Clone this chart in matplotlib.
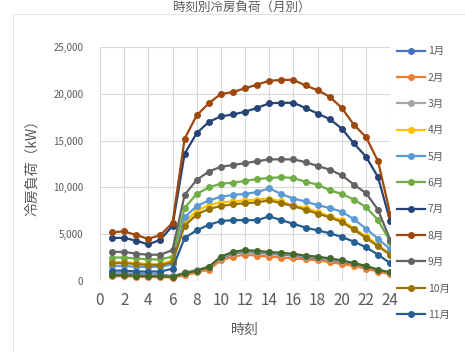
import matplotlib
matplotlib.use("Agg")
import matplotlib.pyplot as plt
from matplotlib.patches import Rectangle
from matplotlib.ticker import FuncFormatter, MultipleLocator

plt.rcParams['font.family'] = ['Noto Sans CJK JP', 'DejaVu Sans']

# 時刻 (1〜24時)
hours = list(range(1, 25))

m1 = [800, 800, 750, 700, 700, 500, 800, 1100, 1400, 2400, 2900, 3100, 3000, 2900, 2800, 2700, 2500, 2400, 2200, 2000, 1800, 1500, 1100, 800]
m2 = [500, 500, 450, 400, 400, 350, 600, 900, 1200, 2200, 2600, 2800, 2700, 2600, 2500, 2400, 2300, 2200, 2000, 1800, 1600, 1300, 1000, 700]
m3 = [700, 700, 650, 600, 600, 500, 900, 1200, 1500, 2500, 3000, 3200, 3100, 3000, 2900, 2800, 2600, 2500, 2300, 2100, 1900, 1600, 1200, 900]
m4 = [2000, 2000, 1900, 1800, 1800, 2200, 6300, 7500, 8100, 8400, 8500, 8600, 8700, 8800, 8500, 8100, 7800, 7400, 6900, 6500, 5600, 4800, 3800, 2900]
m5 = [1600, 1600, 1500, 1500, 1500, 1800, 6800, 8000, 8600, 9000, 9200, 9300, 9500, 9900, 9300, 8800, 8500, 8100, 7800, 7400, 6600, 5600, 4500, 3400]
m6 = [2500, 2500, 2400, 2300, 2300, 2600, 7800, 9300, 10000, 10400, 10500, 10700, 10900, 11000, 11100, 11000, 10600, 10300, 9700, 9300, 8700, 7900, 6500, 4200]
m7 = [4600, 4600, 4300, 3900, 4400, 5900, 13600, 15800, 17000, 17600, 17800, 18100, 18500, 19000, 19050, 19050, 18500, 17900, 17300, 16300, 14700, 13300, 11100, 6400]
m8 = [5200, 5300, 4900, 4500, 4900, 6200, 15200, 17700, 19000, 20000, 20200, 20600, 21000, 21400, 21500, 21500, 20900, 20400, 19700, 18500, 16700, 15400, 12800, 7200]
m9 = [3100, 3100, 2900, 2800, 2800, 3300, 9200, 10800, 11700, 12200, 12400, 12600, 12800, 13000, 13000, 13000, 12700, 12300, 11900, 11300, 10300, 9400, 7600, 4400]
m10 = [1900, 1900, 1800, 1700, 1700, 2000, 5900, 7100, 7700, 8000, 8200, 8300, 8400, 8600, 8300, 8000, 7600, 7200, 6800, 6300, 5500, 4600, 3700, 2800]
m11 = [1100, 1100, 1000, 1000, 1000, 1300, 4600, 5400, 6000, 6400, 6500, 6500, 6500, 6900, 6500, 6100, 5700, 5400, 5100, 4700, 4200, 3600, 2800, 1900]
m12 = [600, 600, 550, 500, 500, 450, 800, 1100, 1500, 2600, 3100, 3300, 3200, 3100, 3000, 2900, 2700, 2600, 2400, 2200, 1900, 1600, 1200, 900]

series = [m1, m2, m3, m4, m5, m6, m7, m8, m9, m10, m11, m12]
labels = ["1月", "2月", "3月", "4月", "5月", "6月", "7月", "8月", "9月", "10月", "11月", "12月"]
colors = ["#4472C4", "#ED7D31", "#A5A5A5", "#FFC000", "#5B9BD5", "#70AD47",
          "#264478", "#9E480E", "#636363", "#997300", "#255E91", "#43682B"]

fig = plt.figure(figsize=(4.65, 3.52), dpi=100)

# グラフエリアの枠線
fig.patches.append(Rectangle((13 / 465, -0.05), 1.2, 1 - 14 / 352 + 0.05,
                             transform=fig.transFigure, fill=False,
                             ec="#E3E3E3", lw=0.8))

ax = fig.add_axes([0.215, 0.202, 0.624, 0.664])

handles = []
for vals, lab, c in zip(series, labels, colors):
    h, = ax.plot(hours, vals, color=c, lw=1.6, marker="o", ms=4, label=lab)
    handles.append(h)

ax.set_xlim(0, 24)
ax.set_ylim(0, 25000)
ax.xaxis.set_major_locator(MultipleLocator(2))
ax.yaxis.set_major_locator(MultipleLocator(5000))
ax.yaxis.set_major_formatter(FuncFormatter(lambda v, p: f"{int(v):,}"))
ax.grid(True, color="#D9D9D9", lw=0.8)
ax.set_axisbelow(True)
for s in ax.spines.values():
    s.set_visible(False)
ax.tick_params(length=0, colors="#595959")
ax.tick_params(axis="y", labelsize=7, pad=12)
ax.tick_params(axis="x", labelsize=11, pad=8)

ax.set_xlabel("時刻", fontsize=10, color="#595959", labelpad=10)
ax.set_ylabel("冷房負荷（kW）", fontsize=10, color="#595959", labelpad=10)

# 凡例は11月まで表示
ax.legend(handles=handles[:11], loc="upper left", bbox_to_anchor=(1.0, 1.035),
          frameon=False, fontsize=7.5, labelspacing=1.57, handlelength=2.6,
          handletextpad=0.3, borderaxespad=0.3, labelcolor="#595959")

# タイトル
fig.text(0.52, 0.998, "時刻別冷房負荷（月別）", ha="center", va="top",
         fontsize=9, color="#595959")

fig.savefig("out.png", dpi=100)
